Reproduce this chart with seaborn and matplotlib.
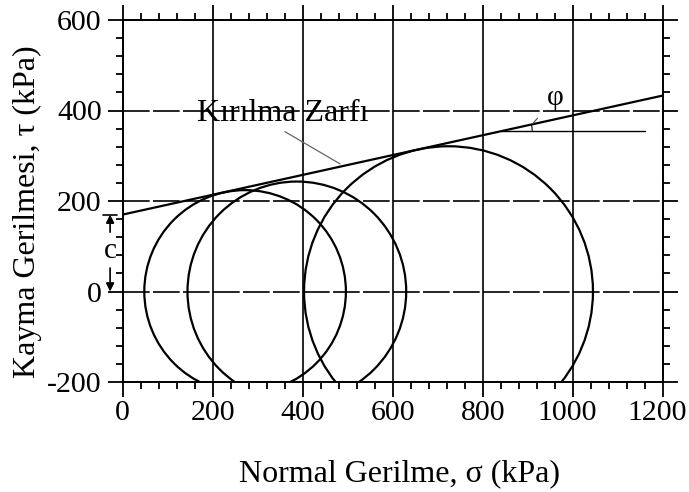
import matplotlib
matplotlib.use("Agg")
import matplotlib.pyplot as plt
import matplotlib.transforms as mtransforms
import seaborn as sns
import pandas as pd
from matplotlib.patches import Circle, Arc
from matplotlib.ticker import MultipleLocator

# ---- data ----
circle_centers = [272, 387, 724]      # sigma centre of each Mohr circle (kPa)
circle_radii = [224, 243, 321]        # radius of each Mohr circle (kPa)
env_sigma = [0, 1200]                 # failure envelope end points
env_tau = [170, 433]
cohesion = 170
phi_sigma = [840, 1161]               # horizontal reference line for phi
phi_tau = [354, 354]
phi_deg = 12.4
x_ticks = [0, 200, 400, 600, 800, 1000, 1200]
y_ticks = [-200, 0, 200, 400, 600]

sns.set_theme(style="white")
plt.rcParams['font.family'] = ['Liberation Serif', 'DejaVu Serif']
plt.rcParams['text.color'] = 'black'
plt.rcParams['axes.labelcolor'] = 'black'
plt.rcParams['xtick.color'] = 'black'
plt.rcParams['ytick.color'] = 'black'

W, H = 689, 492
fig = plt.figure(figsize=(W / 100, H / 100), dpi=100)
ax = fig.add_axes([122.7 / W, 1 - 382 / H, 540 / W, 362 / H])
ax.set_facecolor('white')

# failure envelope
env = pd.DataFrame({"sigma": env_sigma, "tau": env_tau})
sns.lineplot(data=env, x="sigma", y="tau", color="black", lw=1.6, ax=ax)

# Mohr circles
for c, r in zip(circle_centers, circle_radii):
    ax.add_patch(Circle((c, 0), r, fill=False, ec="black", lw=1.6))

# phi construction
sns.lineplot(x=phi_sigma, y=phi_tau, color="black", lw=1.0, ax=ax)
ax.add_patch(Arc((phi_sigma[0], phi_tau[0]), 140, 140, theta1=0, theta2=phi_deg,
                 color="black", lw=0.8))
ax.annotate("φ", xy=(912, 372), xytext=(962, 428), ha="center", va="center",
            fontsize=21, color="black",
            arrowprops=dict(arrowstyle="-", color="0.35", lw=0.9,
                            shrinkA=7, shrinkB=0))

# label for envelope
ax.annotate("Kırılma Zarfı", xy=(483, 282), xytext=(165, 376),
            ha="left", va="baseline", fontsize=23, color="black",
            arrowprops=dict(arrowstyle="-", color="0.4", lw=0.9,
                            shrinkA=0, shrinkB=0, relpos=(0.48, 0.0)))

# cohesion marker
xc = -28
ax.annotate("", xy=(xc, cohesion), xytext=(xc, 131), annotation_clip=False,
            arrowprops=dict(arrowstyle="-|>", color="black", lw=1.2,
                            mutation_scale=12, shrinkA=0, shrinkB=0))
ax.annotate("", xy=(xc, 0), xytext=(xc, 52), annotation_clip=False,
            arrowprops=dict(arrowstyle="-|>", color="black", lw=1.2,
                            mutation_scale=12, shrinkA=0, shrinkB=0))
ax.plot([xc - 16, xc + 16], [cohesion, cohesion], color="black", lw=1.2,
        clip_on=False)
ax.text(xc, 89, "c", ha="center", va="center", fontsize=21, color="black")

# axes, ticks, grid
ax.set_xlim(x_ticks[0], x_ticks[-1])
ax.set_ylim(y_ticks[0], y_ticks[-1])
ax.set_xticks(x_ticks)
ax.set_yticks(y_ticks)
ax.set_xticklabels([str(v) for v in x_ticks])
ax.set_yticklabels([str(v) for v in y_ticks])
ax.xaxis.set_minor_locator(MultipleLocator(40))
ax.yaxis.set_minor_locator(MultipleLocator(40))
ax.tick_params(which="both", direction="out", top=True, right=True,
               bottom=True, left=True, color="black", width=1.3)
ax.tick_params(which="major", length=11, labelsize=21.5, labelcolor="black")
ax.tick_params(which="minor", length=5)
ax.tick_params(axis="x", which="major", pad=2)
ax.tick_params(axis="y", which="major", pad=4)
for s in ax.spines.values():
    s.set_color("black")
    s.set_linewidth(1.4)
    s.set_visible(True)

# the wide labels sit slightly left of their ticks in the reference
for lab in ax.get_xticklabels()[-2:]:
    lab.set_transform(lab.get_transform() +
                      mtransforms.ScaledTranslation(-6 / 100, 0, fig.dpi_scale_trans))

ax.xaxis.grid(True, which="major", color="black", lw=1.2, ls="-")
ax.yaxis.grid(True, which="major", color="black", lw=1.2, ls=(0, (16, 2)))
ax.set_axisbelow(True)

ax.set_xlabel("Normal Gerilme, σ (kPa)", fontsize=23, color="black")
ax.set_ylabel("Kayma Gerilmesi, τ (kPa)", fontsize=23, color="black")
ax.xaxis.set_label_coords(0.512, -0.213)
ax.yaxis.set_label_coords(-0.149, 0.47)

fig.savefig("out.png", dpi=100, facecolor="white")
